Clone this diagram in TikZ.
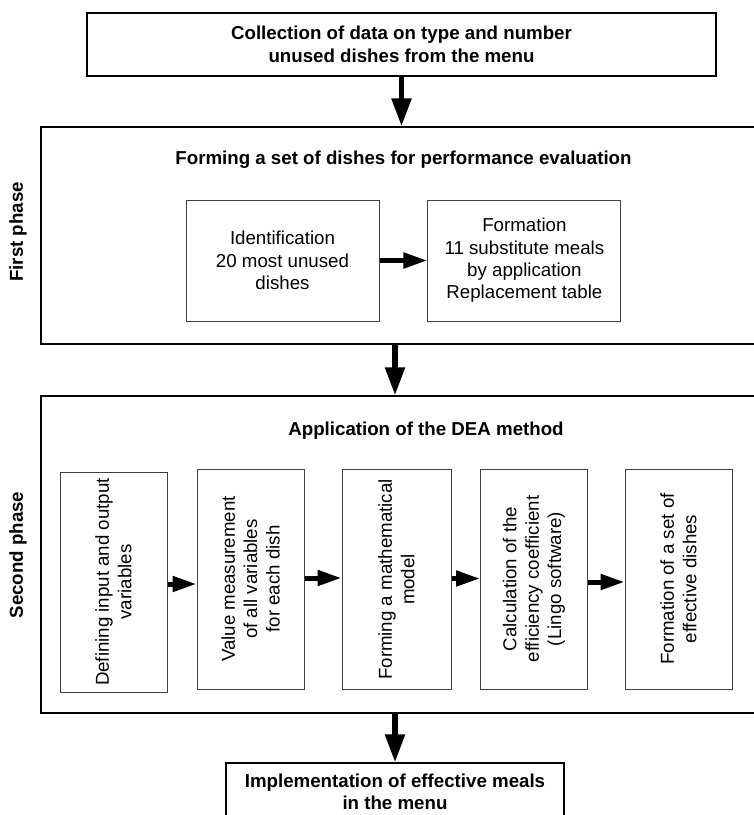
\documentclass[tikz,border=0pt]{standalone}
\usepackage{fontspec}
\setmainfont{Liberation Sans}
\usetikzlibrary{arrows.meta}
\begin{document}
\begin{tikzpicture}[x=1pt,y=-1pt,
  every node/.style={font=\fontsize{18.7}{22.4}\selectfont, inner sep=0pt, align=center},
  outerbox/.style={draw=black, line width=1.4pt},
  innerbox/.style={draw=black!75, line width=1pt},
  bigarrow/.style={line width=5.5pt, -{Triangle[length=28pt,width=19pt]}},
  smallarrow/.style={line width=5pt, -{Triangle[length=24pt,width=15pt]}},
  titletext/.style={font=\bfseries\fontsize{18.7}{22.4}\selectfont},
  phaselabel/.style={font=\bfseries\fontsize{18.7}{22.4}\selectfont, rotate=90}
]
\useasboundingbox (0,0) rectangle (754,815);
\clip (0,0) rectangle (754,815);

% top box
\node[outerbox, titletext, minimum width=629pt, minimum height=63pt] (top) at (401.5,44.5)
  {Collection of data on type and number\\unused dishes from the menu};

% phase boxes
\node[outerbox, minimum width=729pt, minimum height=217pt] (p1) at (405.5,235.5) {};
\node[outerbox, minimum width=729pt, minimum height=317pt] (p2) at (405.5,554.5) {};

\node[phaselabel] (l1) at (18,232) {First phase};
\node[phaselabel] (l2) at (18,555) {Second phase};

\node[titletext] (t1) at (403.5,160) {Forming a set of dishes for performance evaluation};
\node[titletext] (t2) at (426,431) {Application of the DEA method};

% first phase inner boxes
\node[innerbox, minimum width=193pt, minimum height=121pt] (f1) at (282.5,260.5)
  {Identification\\20 most unused\\dishes};
\node[innerbox, minimum width=193pt, minimum height=121pt] (f2) at (524.4,260.5)
  {Formation\\11 substitute meals\\by application\\Replacement table};
\draw[smallarrow] (f1.east) -- (f2.west);

% second phase boxes
\node[innerbox, minimum width=107pt, minimum height=220pt] (b1) at (113.5,582) {};
\node[innerbox, minimum width=107pt, minimum height=220pt] (b2) at (250.5,579) {};
\node[innerbox, minimum width=109pt, minimum height=220pt] (b3) at (396.5,579.5) {};
\node[innerbox, minimum width=107pt, minimum height=220pt] (b4) at (534,579) {};
\node[innerbox, minimum width=107pt, minimum height=220pt] (b5) at (678.5,579) {};

\node[rotate=90] (s1) at (b1) {Defining input and output\\variables};
\node[rotate=90] (s2) at (b2) {Value measurement\\of all variables\\for each dish};
\node[rotate=90] (s3) at (b3) {Forming a mathematical\\model};
\node[rotate=90] (s4) at (b4) {Calculation of the\\efficiency coefficient\\(Lingo software)};
\node[rotate=90] (s5) at (b5) {Formation of a set of\\effective dishes};

\draw[smallarrow] ([yshift=-2pt]b1.east) -- ([yshift=-2pt]b1.east -| b2.west);
\draw[smallarrow] ([yshift=1pt]b2.east) -- ([yshift=1pt]b2.east -| b3.west);
\draw[smallarrow] ([yshift=1pt]b3.east) -- ([yshift=1pt]b3.east -| b4.west);
\draw[smallarrow] ([yshift=-3pt]b4.east) -- ([yshift=-3pt]b4.east -| b5.west);

% bottom box
\node[outerbox, titletext, minimum width=338pt, minimum height=58pt] (bot) at (395,792)
  {Implementation of effective meals\\in the menu};

% big arrows
\draw[bigarrow] (top.south) -- (top.south |- p1.north);
\draw[bigarrow] (p1.south -| bot.north) -- (p2.north -| bot.north);
\draw[bigarrow] (p2.south -| bot.north) -- (bot.north);
\end{tikzpicture}
\end{document}
